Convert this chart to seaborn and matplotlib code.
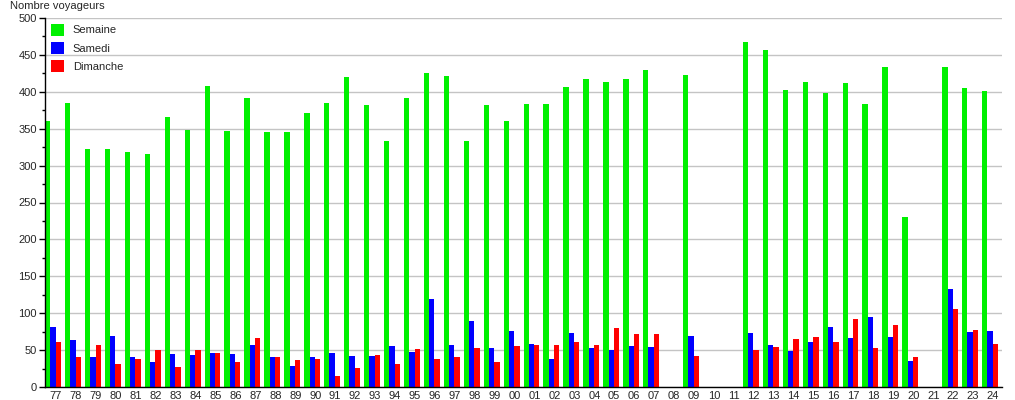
import matplotlib
matplotlib.use("Agg")
import matplotlib.pyplot as plt
import matplotlib.transforms as mtransforms
from matplotlib.ticker import MultipleLocator
from matplotlib.patches import Patch
import seaborn as sns
import pandas as pd

years = ["77", "78", "79", "80", "81", "82", "83", "84", "85", "86", "87", "88",
         "89", "90", "91", "92", "93", "94", "95", "96", "97", "98", "99", "00",
         "01", "02", "03", "04", "05", "06", "07", "08", "09", "10", "11", "12",
         "13", "14", "15", "16", "17", "18", "19", "20", "21", "22", "23", "24"]

semaine = [360, 385, 322, 322, 319, 316, 366, 348, 408, 347, 392, 345,
           345, 371, 385, 420, 382, 334, 392, 425, 421, 334, 382, 361,
           384, 383, 407, 417, 413, 417, 429, 0, 423, 0, 0, 467,
           456, 403, 413, 398, 412, 384, 434, 231, 0, 434, 405, 401]

samedi = [81, 64, 41, 69, 41, 34, 45, 44, 46, 45, 57, 40,
          29, 40, 46, 42, 42, 56, 48, 119, 57, 90, 53, 76,
          58, 38, 73, 53, 50, 56, 54, 0, 69, 0, 0, 73,
          57, 49, 61, 81, 67, 95, 68, 35, 0, 133, 75, 76]

dimanche = [61, 41, 57, 31, 38, 50, 27, 50, 46, 34, 67, 40,
            36, 38, 15, 26, 44, 31, 52, 38, 41, 53, 34, 56,
            57, 57, 61, 57, 80, 72, 72, 0, 42, 0, 0, 50,
            54, 65, 68, 61, 92, 53, 84, 40, 0, 106, 77, 58]

series_names = ["Semaine", "Samedi", "Dimanche"]
colors = ["#00f000", "#0000ff", "#ff0000"]

df = pd.concat([
    pd.DataFrame({"year": years, "value": semaine, "serie": "Semaine"}),
    pd.DataFrame({"year": years, "value": samedi, "serie": "Samedi"}),
    pd.DataFrame({"year": years, "value": dimanche, "serie": "Dimanche"}),
])

sns.set_theme(style="white")
plt.rcParams["font.family"] = ["Liberation Sans", "DejaVu Sans"]

fig = plt.figure(figsize=(10.15, 4.0), dpi=100)
ax = fig.add_axes([45 / 1015, 13 / 400, (1002 - 45) / 1015, (387 - 13 - 5) / 400])

sns.barplot(data=df, x="year", y="value", hue="serie", order=years,
            hue_order=series_names, palette=colors, width=0.8, dodge=True,
            saturation=1, linewidth=0, errorbar=None, legend=False, ax=ax)

ax.set_xlim(-0.4, len(years) - 0.4)
ax.set_ylim(0, 500)
ax.yaxis.set_major_locator(MultipleLocator(50))
ax.yaxis.set_minor_locator(MultipleLocator(25))
ax.grid(axis="y", which="major", color="#c4c4c4", linewidth=1.0, linestyle="-")
ax.set_axisbelow(True)

for s in ["top", "right"]:
    ax.spines[s].set_visible(False)
for s in ["left", "bottom"]:
    ax.spines[s].set_color("black")
    ax.spines[s].set_linewidth(1.0)

ax.tick_params(axis="y", which="major", direction="out", length=4, width=1,
               color="black", labelsize=8, pad=2, left=True)
ax.tick_params(axis="y", which="minor", direction="out", length=2.5, width=1,
               color="black", left=True)
ax.tick_params(axis="x", which="both", length=0, labelsize=8, pad=3)

offset = mtransforms.ScaledTranslation(3 / 100, 0, fig.dpi_scale_trans)
for lbl in ax.get_xticklabels():
    lbl.set_transform(lbl.get_transform() + offset)

ax.set_xlabel("")
ax.set_ylabel("")
fig.text(10 / 1015, 1 - 6 / 400, "Nombre voyageurs", fontsize=8, ha="left", va="center")

handles = [Patch(facecolor=c, edgecolor="none") for c in colors]
ax.legend(handles, series_names, loc="upper left", frameon=False, fontsize=8,
          handlelength=1.2, handleheight=1.3, handletextpad=0.8,
          labelspacing=0.55, borderaxespad=0.0, borderpad=0.5,
          bbox_to_anchor=(0.0, 1.0))

fig.savefig("out.png", dpi=100)
